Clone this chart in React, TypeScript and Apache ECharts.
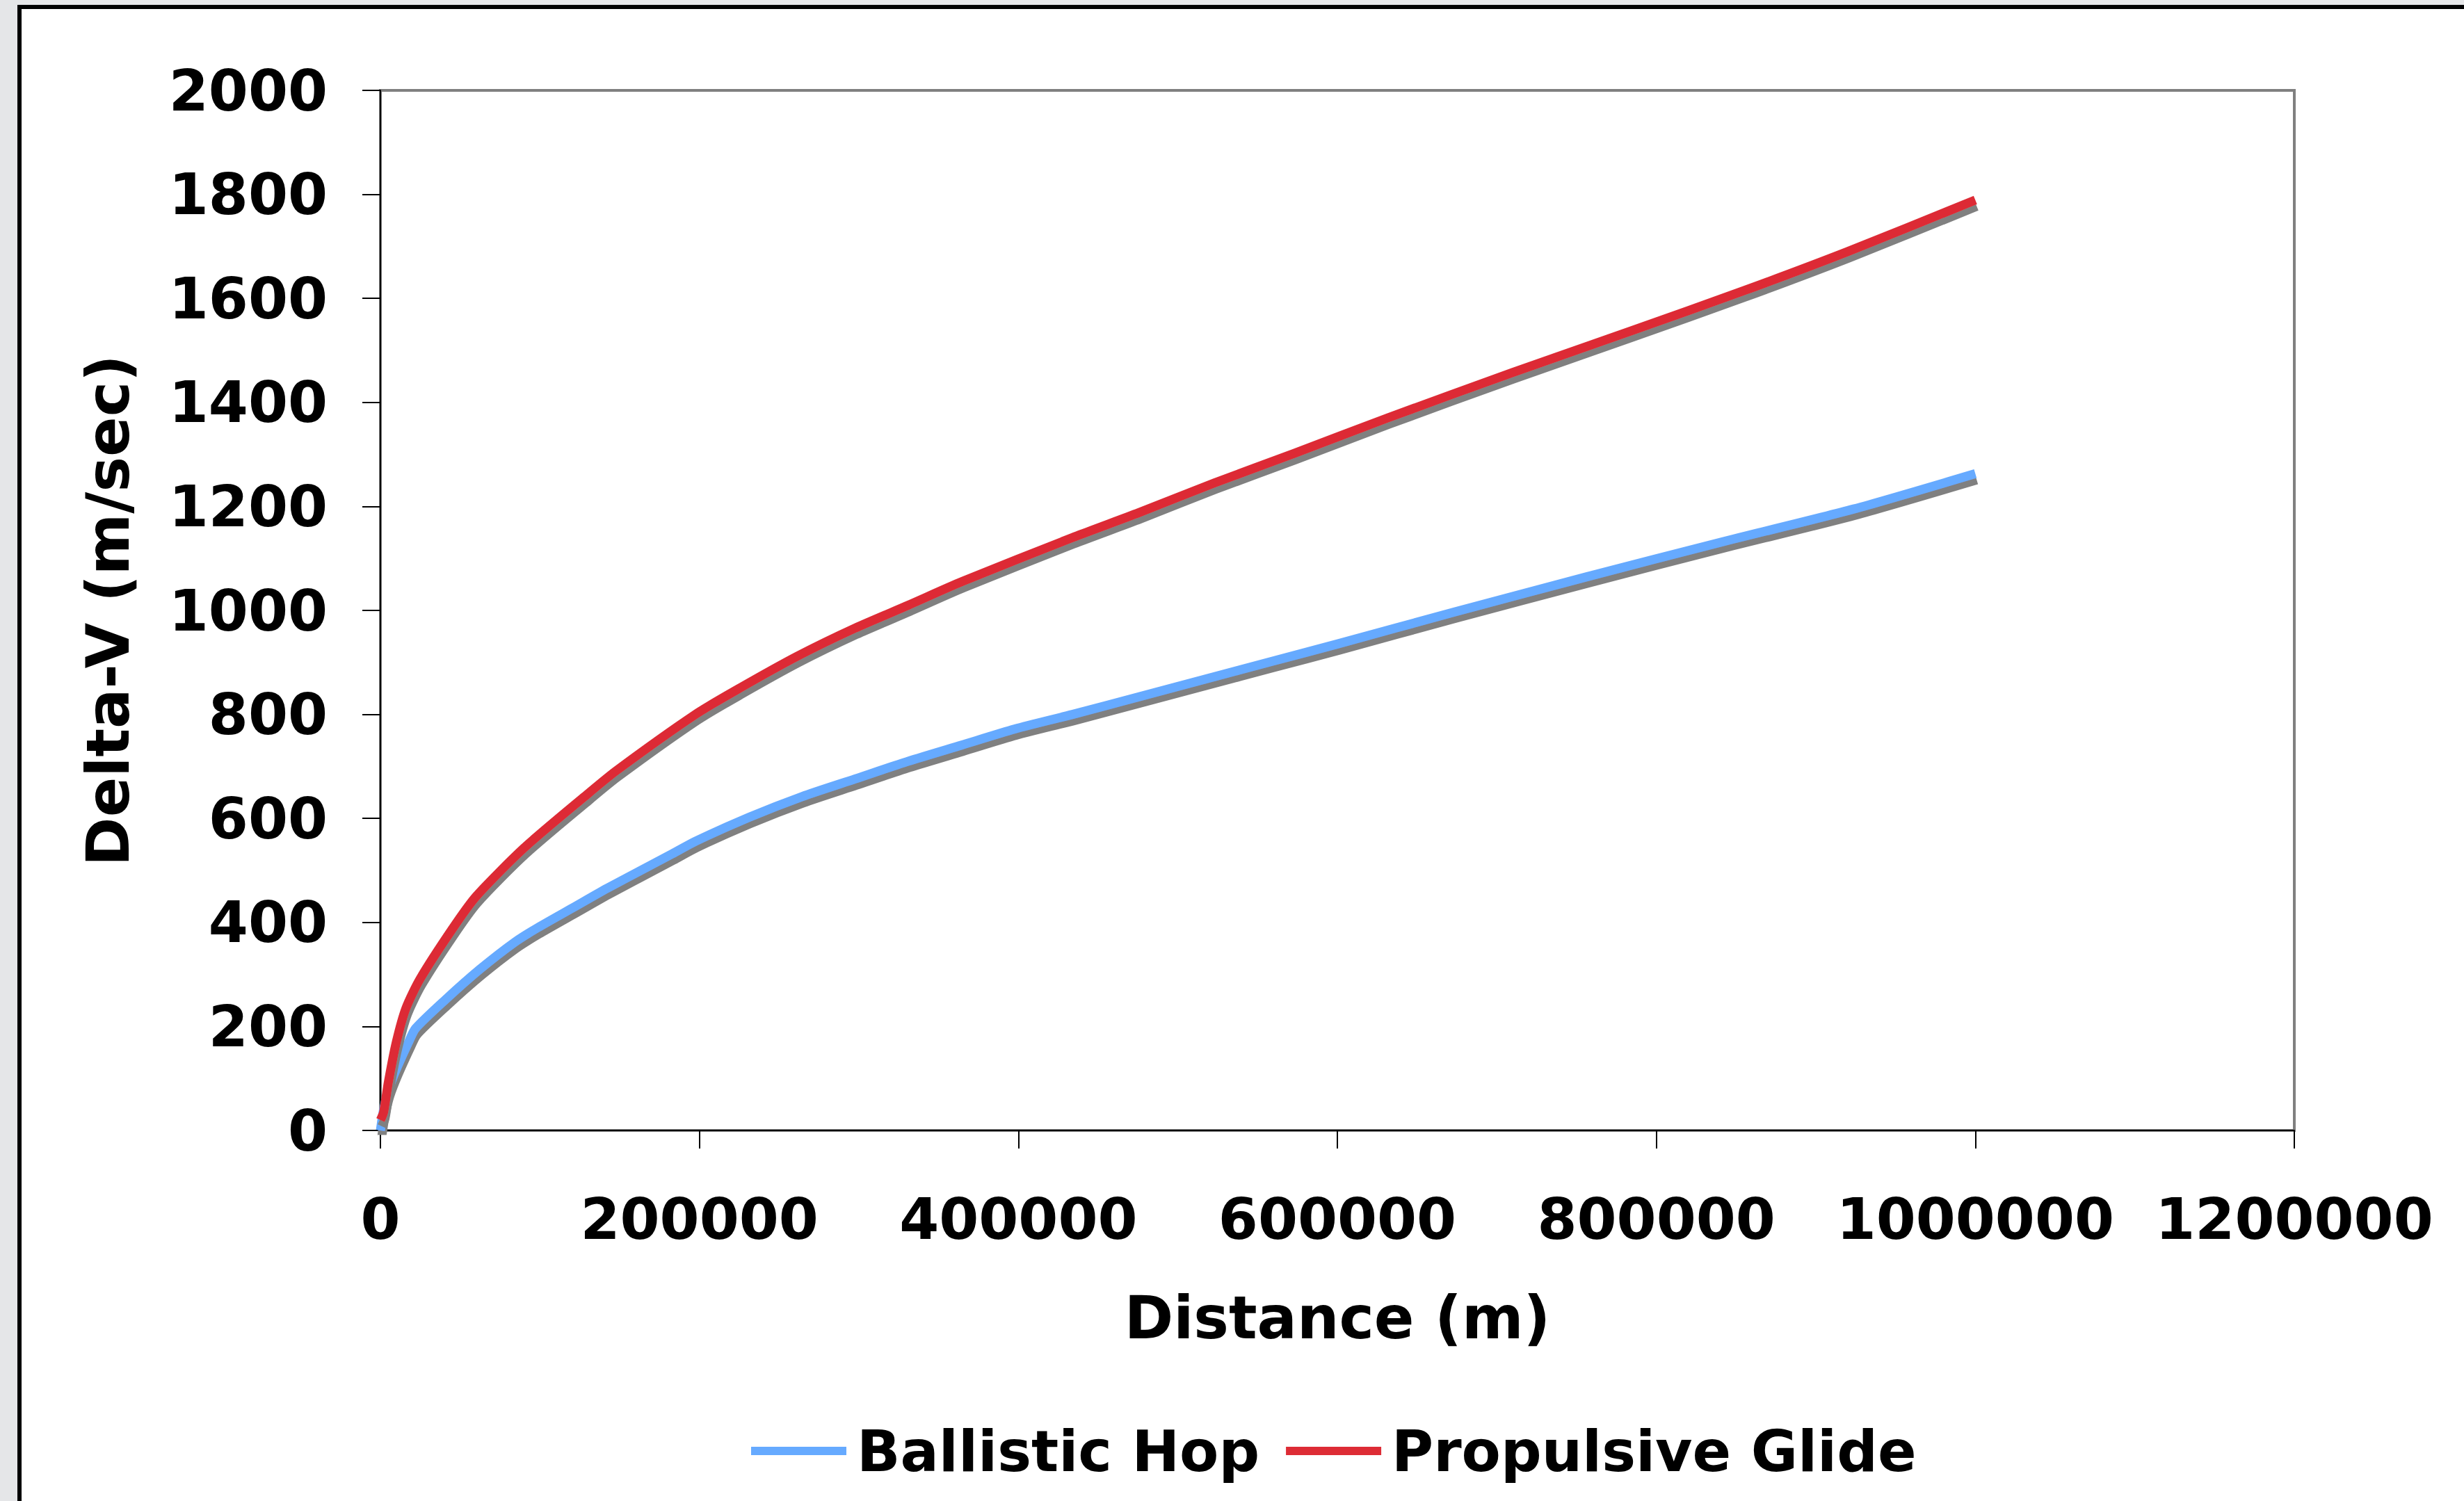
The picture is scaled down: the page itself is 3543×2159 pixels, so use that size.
import React, { useEffect, useRef } from "react";
import * as echarts from "echarts";

// Distance (m) and Delta-V (m/sec)
const ballisticDistance = [0, 2000, 5000, 10000, 18000, 22000, 40600, 62400, 84200, 98700, 120500, 142300, 183000, 197500, 230900, 264300, 297600, 331000, 364400, 397800, 433900, 475600, 517300, 559000, 600700, 673400, 756800, 840300, 923700, 1000000];
const ballisticDeltaV = [0, 40, 78, 118, 172, 196, 251, 310, 362, 390, 428, 466, 532, 556, 602, 642, 676, 710, 741, 772, 800, 834, 868, 902, 936, 997, 1065, 1131, 1195, 1263];

const propulsiveDistance = [0, 2000, 5000, 10000, 16000, 25000, 45000, 60000, 90000, 128000, 148000, 197500, 225000, 261500, 297700, 331000, 364400, 433900, 475600, 522800, 573000, 631400, 709500, 784600, 854200, 920000, 1000000];
const propulsiveDeltaV = [20, 35, 93, 170, 235, 292, 387, 450, 543, 642, 692, 800, 850, 912, 966, 1010, 1055, 1140, 1188, 1245, 1302, 1370, 1457, 1538, 1614, 1690, 1789];

const seriesNames = ["Ballistic Hop", "Propulsive Glide"];
const seriesColors = ["#66AAFF", "#DD2C35"];

const xAxisTitle = "Distance (m)";
const yAxisTitle = "Delta-V (m/sec)";

const FONT = "DejaVu Sans";

function zip(xs: number[], ys: number[]) {
  return xs.map((x, i) => [x, ys[i]]);
}

export default function App() {
  const ref = useRef<HTMLDivElement>(null);

  useEffect(() => {
    if (!ref.current) return;
    const chart = echarts.init(ref.current, undefined, { renderer: "svg" });
    const lineSeries = (name: string, color: string, data: number[][]) => ({
      name,
      type: "line",
      data,
      showSymbol: false,
      symbol: "none",
      color,
      clip: true,
      smooth: 0.25,
      lineStyle: {
        color,
        width: 13,
        cap: "butt",
        join: "round",
        shadowColor: "#808080",
        shadowBlur: 0,
        shadowOffsetX: 2,
        shadowOffsetY: 9,
      },
      emphasis: { disabled: true },
    });
    const labelStyle = {
      fontFamily: FONT,
      fontWeight: "bold",
      fontSize: 82,
      lineHeight: 84,
      color: "#000",
    };
    const titleStyle = {
      fontFamily: FONT,
      fontWeight: "bold",
      fontSize: 85,
      lineHeight: 85,
      color: "#000",
    };
    chart.setOption({
      animation: false,
      backgroundColor: "transparent",
      grid: {
        left: 547,
        top: 130,
        width: 2752,
        height: 1496,
        show: true,
        backgroundColor: "#ffffff",
        borderColor: "#808080",
        borderWidth: 4,
      },
      xAxis: {
        type: "value",
        min: 0,
        max: 1200000,
        interval: 200000,
        name: xAxisTitle,
        nameLocation: "middle",
        nameGap: 227,
        nameTextStyle: titleStyle,
        axisLine: { show: true, lineStyle: { color: "#000", width: 2 } },
        axisTick: { show: true, inside: false, length: 26, lineStyle: { color: "#000", width: 2 } },
        splitLine: { show: false },
        axisLabel: { ...labelStyle, margin: 85, formatter: (v: number) => String(v) },
      },
      yAxis: {
        type: "value",
        min: 0,
        max: 2000,
        interval: 200,
        name: yAxisTitle,
        nameLocation: "middle",
        nameGap: 349,
        nameTextStyle: titleStyle,
        axisLine: { show: true, lineStyle: { color: "#000", width: 2 } },
        axisTick: { show: true, inside: false, length: 26, lineStyle: { color: "#000", width: 2 } },
        splitLine: { show: false },
        axisLabel: { ...labelStyle, margin: 76, formatter: (v: number) => String(v) },
      },
      legend: {
        show: true,
        left: 1075,
        top: 2040,
        orient: "horizontal",
        icon: "rect",
        itemWidth: 137,
        itemHeight: 12,
        itemGap: 38,
        data: seriesNames,
        itemStyle: { shadowColor: "transparent", shadowBlur: 0, shadowOffsetX: 0, shadowOffsetY: 0 },
        lineStyle: { shadowColor: "transparent", shadowBlur: 0, shadowOffsetX: 0, shadowOffsetY: 0 },
        textStyle: { ...labelStyle, padding: [0, 0, 0, 10] },
      },
      series: [
        lineSeries(seriesNames[0], seriesColors[0], zip(ballisticDistance, ballisticDeltaV)),
        lineSeries(seriesNames[1], seriesColors[1], zip(propulsiveDistance, propulsiveDeltaV)),
      ],
    });
    return () => chart.dispose();
  }, []);

  return (
    <div
      style={{
        position: "fixed",
        left: 0,
        top: 0,
        width: 3543,
        height: 2159,
        background: "#e5e6e8",
        overflow: "hidden",
      }}
    >
      <div
        style={{
          position: "absolute",
          left: 25,
          top: 7,
          width: 3600,
          height: 2300,
          border: "6px solid #000",
          background: "#ffffff",
        }}
      />
      <div
        ref={ref}
        style={{ position: "absolute", left: 0, top: 0, width: 3543, height: 2159 }}
      />
    </div>
  );
}
